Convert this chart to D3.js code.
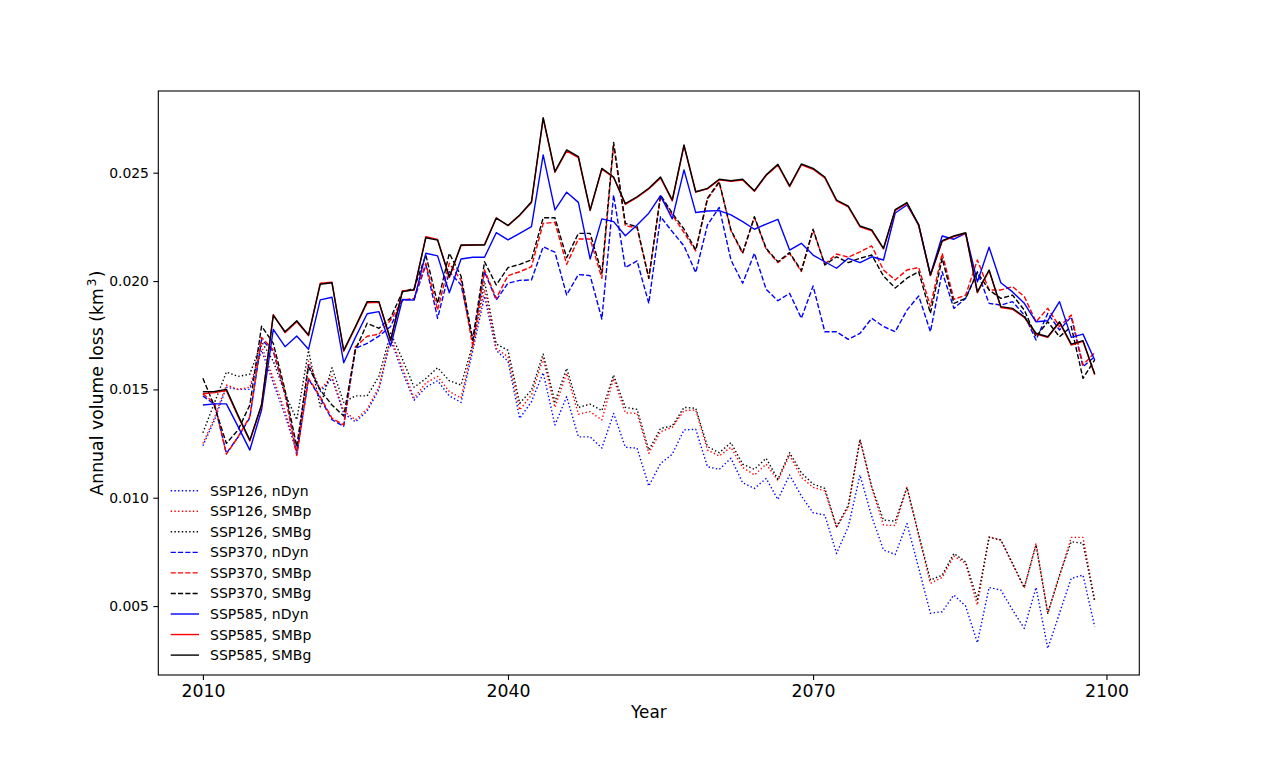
<!DOCTYPE html>
<html>
<head>
<meta charset="utf-8">
<script src="https://cdn.jsdelivr.net/npm/d3@7"></script>
<style>
  html, body { margin: 0; padding: 0; background: #ffffff; }
  svg { display: block; font-family: "DejaVu Sans", sans-serif; }
</style>
</head>
<body>
<svg id="chart" width="1266" height="759"></svg>
<script>
// ---------------- DATA ----------------
const xTickPositions = [0, 26, 52, 77];
const xTickLabels = ["2010", "2040", "2070", "2100"];
const yTickValues = [0.005, 0.010, 0.015, 0.020, 0.025];

const seriesNames = [
  "SSP126, nDyn", "SSP126, SMBp", "SSP126, SMBg",
  "SSP370, nDyn", "SSP370, SMBp", "SSP370, SMBg",
  "SSP585, nDyn", "SSP585, SMBp", "SSP585, SMBg"
];

const ssp126_nDyn = [
  0.0124, 0.0136, 0.0151, 0.0150, 0.0150, 0.0168, 0.0153, 0.0138, 0.0121, 0.0162,
  0.0149, 0.0155, 0.0139, 0.0135, 0.0140, 0.0150, 0.0173, 0.0158, 0.0145, 0.0151,
  0.0154, 0.0147, 0.0144, 0.0168, 0.0193, 0.0168, 0.0163,
  0.01366, 0.01443, 0.01577, 0.01336, 0.01466, 0.01281, 0.01281, 0.01229, 0.01389,
  0.01233, 0.01229, 0.01054, 0.01158, 0.01201, 0.01313,
  0.01316, 0.01143, 0.01131, 0.01182, 0.01069, 0.01043, 0.01089, 0.00992, 0.01105,
  0.01008, 0.00931, 0.00920, 0.00743, 0.00866, 0.01105, 0.00913, 0.00759, 0.00738,
  0.00881, 0.00675, 0.00467, 0.00474, 0.00551, 0.00500, 0.00331, 0.00586, 0.00574,
  0.00482, 0.00397, 0.00586, 0.00305, 0.00467, 0.00628, 0.00643, 0.00405
];
const ssp126_SMBp = [
  0.0125, 0.0137, 0.0152, 0.0150, 0.0151, 0.0170, 0.0155, 0.0140, 0.0122, 0.0163,
  0.0150, 0.0156, 0.0140, 0.0136, 0.0141, 0.0151, 0.0174, 0.0160, 0.0146, 0.0153,
  0.0156, 0.0149, 0.0146, 0.0170, 0.0196, 0.0169, 0.0165,
  0.01405, 0.01474, 0.01643, 0.01417, 0.01574, 0.01386, 0.01397, 0.01359, 0.01551,
  0.01392, 0.01389, 0.01205, 0.01305, 0.01325, 0.01402,
  0.01405, 0.01220, 0.01193, 0.01233, 0.01140, 0.01105, 0.01155, 0.01079, 0.01197,
  0.01094, 0.01048, 0.01032, 0.00863, 0.00955, 0.01266, 0.01045, 0.00874, 0.00872,
  0.01048, 0.00826, 0.00605, 0.00632, 0.00731, 0.00697, 0.00505, 0.00820, 0.00805,
  0.00693, 0.00584, 0.00790, 0.00467, 0.00638, 0.00817, 0.00817, 0.00528
];
const ssp126_SMBg = [
  0.0130, 0.0144, 0.0158, 0.0156, 0.0157, 0.0172, 0.0163, 0.0148, 0.0136, 0.0168,
  0.0142, 0.0160, 0.0144, 0.0147, 0.0147, 0.0156, 0.0176, 0.0164, 0.0151, 0.0155,
  0.0160, 0.0154, 0.0152, 0.0171, 0.0200, 0.0171, 0.0168,
  0.01436, 0.01497, 0.01663, 0.01443, 0.01597, 0.01417, 0.01432, 0.01402, 0.01566,
  0.01417, 0.01408, 0.01220, 0.01320, 0.01331, 0.01417,
  0.01413, 0.01236, 0.01208, 0.01254, 0.01155, 0.01131, 0.01182, 0.01085, 0.01208,
  0.01115, 0.01063, 0.01043, 0.00866, 0.00966, 0.01270, 0.01051, 0.00897, 0.00892,
  0.01048, 0.00830, 0.00620, 0.00643, 0.00743, 0.00704, 0.00531, 0.00817, 0.00805,
  0.00697, 0.00586, 0.00782, 0.00467, 0.00643, 0.00797, 0.00790, 0.00520
];
const ssp370_nDyn = [
  0.01470, 0.01430, 0.01205, 0.01280, 0.01370, 0.01730, 0.01675, 0.01478, 0.01200, 0.01548,
  0.01460, 0.01360, 0.01330, 0.01690, 0.01712, 0.01746, 0.01790, 0.01912, 0.01916, 0.02074,
  0.01828, 0.02043, 0.01982, 0.01728, 0.02043, 0.01912, 0.01990, 0.02003, 0.02005, 0.02158,
  0.02133, 0.01936, 0.02030, 0.02025, 0.01825, 0.02397, 0.02062, 0.02093, 0.01897, 0.02297,
  0.02228, 0.02162, 0.02039, 0.02259, 0.02340, 0.02097, 0.01990, 0.02128, 0.01962, 0.01909,
  0.01943, 0.01828, 0.01977, 0.01766, 0.01766, 0.01731, 0.01759, 0.01828, 0.01790, 0.01766,
  0.01866, 0.01931, 0.01766, 0.02043, 0.01874, 0.01920, 0.02043, 0.01897, 0.01889, 0.01905,
  0.01843, 0.01728, 0.01851, 0.01774, 0.01835, 0.01605, 0.01651
];
const ssp370_SMBp = [
  0.01480, 0.01436, 0.01201, 0.01281, 0.01374, 0.01740, 0.01682, 0.01482, 0.01195, 0.01551,
  0.01466, 0.01367, 0.01336, 0.01697, 0.01745, 0.01755, 0.01820, 0.01912, 0.01920, 0.02082,
  0.01866, 0.02082, 0.02004, 0.01697, 0.02051, 0.01920, 0.02025, 0.02043, 0.02066, 0.02266,
  0.02271, 0.02077, 0.02194, 0.02194, 0.02013, 0.02628, 0.02255, 0.02246, 0.02013, 0.02389,
  0.02305, 0.02224, 0.02139, 0.02378, 0.02455, 0.02232, 0.02127, 0.02293, 0.02147, 0.02085,
  0.02127, 0.02044, 0.02235, 0.02078, 0.02125, 0.02110, 0.02135, 0.02162, 0.02051, 0.02005,
  0.02051, 0.02063, 0.01882, 0.02128, 0.01916, 0.01935, 0.02097, 0.01959, 0.01959, 0.01974,
  0.01928, 0.01812, 0.01874, 0.01790, 0.01843, 0.01613, 0.01669
];
const ssp370_SMBg = [
  0.01551, 0.01420, 0.01251, 0.01313, 0.01428, 0.01792, 0.01712, 0.01497, 0.01236, 0.01605,
  0.01497, 0.01428, 0.01377, 0.01682, 0.01805, 0.01782, 0.01830, 0.01950, 0.01966, 0.02120,
  0.01897, 0.02128, 0.02023, 0.01728, 0.02089, 0.01982, 0.02062, 0.02077, 0.02097, 0.02292,
  0.02292, 0.02108, 0.02220, 0.02220, 0.02036, 0.02640, 0.02266, 0.02251, 0.02013, 0.02397,
  0.02313, 0.02240, 0.02143, 0.02382, 0.02458, 0.02236, 0.02131, 0.02297, 0.02151, 0.02089,
  0.02131, 0.02048, 0.02239, 0.02074, 0.02112, 0.02085, 0.02105, 0.02120, 0.02023, 0.01968,
  0.02013, 0.02043, 0.01851, 0.02105, 0.01897, 0.01920, 0.02039, 0.01959, 0.01920, 0.01935,
  0.01866, 0.01743, 0.01812, 0.01743, 0.01790, 0.01551, 0.01636
];
const ssp585_nDyn = [
  0.01428, 0.01433, 0.01433, 0.01328, 0.01220, 0.01405, 0.01777, 0.01697, 0.01746, 0.01685,
  0.01913, 0.01925, 0.01623, 0.01740, 0.01849, 0.01859, 0.01700, 0.01915, 0.01912, 0.02128,
  0.02116, 0.01946, 0.02102, 0.02110, 0.02110, 0.02223, 0.02190, 0.02220, 0.02251, 0.02582,
  0.02328, 0.02410, 0.02363, 0.02102, 0.02287, 0.02274, 0.02209, 0.02259, 0.02313, 0.02394,
  0.02287, 0.02513, 0.02316, 0.02323, 0.02325, 0.02305, 0.02274, 0.02239, 0.02263, 0.02285,
  0.02143, 0.02174, 0.02120, 0.02089, 0.02059, 0.02105, 0.02085, 0.02112, 0.02097, 0.02314,
  0.02351, 0.02260, 0.02028, 0.02208, 0.02193, 0.02220, 0.01996, 0.02156, 0.01992, 0.01950,
  0.01897, 0.01812, 0.01817, 0.01905, 0.01740, 0.01755, 0.01636
];
const ssp585_SMBp = [
  0.01480, 0.01485, 0.01495, 0.01375, 0.01262, 0.01425, 0.01845, 0.01762, 0.01812, 0.01748,
  0.01990, 0.01995, 0.01676, 0.01786, 0.01900, 0.01902, 0.01725, 0.01955, 0.01958, 0.02205,
  0.02192, 0.02016, 0.02164, 0.02166, 0.02168, 0.02292, 0.02255, 0.02303, 0.02362, 0.02750,
  0.02502, 0.02600, 0.02570, 0.02325, 0.02516, 0.02478, 0.02354, 0.02386, 0.02425, 0.02476,
  0.02370, 0.02624, 0.02410, 0.02425, 0.02467, 0.02460, 0.02466, 0.02414, 0.02487, 0.02535,
  0.02436, 0.02536, 0.02516, 0.02476, 0.02370, 0.02342, 0.02250, 0.02232, 0.02148, 0.02326,
  0.02358, 0.02255, 0.02025, 0.02183, 0.02205, 0.02220, 0.01946, 0.02048, 0.01878, 0.01870,
  0.01832, 0.01755, 0.01740, 0.01808, 0.01705, 0.01722, 0.01568
];
const ssp585_SMBg = [
  0.01489, 0.01490, 0.01500, 0.01380, 0.01266, 0.01430, 0.01842, 0.01766, 0.01817, 0.01751,
  0.01985, 0.01992, 0.01680, 0.01790, 0.01905, 0.01905, 0.01728, 0.01951, 0.01960, 0.02200,
  0.02189, 0.02020, 0.02166, 0.02166, 0.02166, 0.02290, 0.02257, 0.02305, 0.02366, 0.02754,
  0.02505, 0.02605, 0.02574, 0.02328, 0.02520, 0.02480, 0.02357, 0.02389, 0.02428, 0.02480,
  0.02374, 0.02628, 0.02412, 0.02428, 0.02470, 0.02463, 0.02470, 0.02417, 0.02490, 0.02539,
  0.02439, 0.02540, 0.02520, 0.02480, 0.02374, 0.02346, 0.02254, 0.02236, 0.02151, 0.02330,
  0.02362, 0.02259, 0.02028, 0.02186, 0.02208, 0.02223, 0.01950, 0.02051, 0.01882, 0.01874,
  0.01835, 0.01759, 0.01743, 0.01812, 0.01709, 0.01725, 0.01571
];

const seriesValues = [
  ssp126_nDyn, ssp126_SMBp, ssp126_SMBg,
  ssp370_nDyn, ssp370_SMBp, ssp370_SMBg,
  ssp585_nDyn, ssp585_SMBp, ssp585_SMBg
];

// ---------------- STYLE ----------------
const seriesColors = ["#0000ff", "#ff0000", "#000000", "#0000ff", "#ff0000", "#000000", "#0000ff", "#ff0000", "#000000"];
const seriesDash = ["1.4,2.3", "1.4,2.3", "1.4,2.3", "5.1,2.2", "5.1,2.2", "5.1,2.2", null, null, null];

// ---------------- LAYOUT ----------------
const W = 1266, H = 759;
const plot = { left: 158.3, right: 1139.3, top: 91, bottom: 675 };

const svg = d3.select("#chart");
svg.append("rect").attr("width", W).attr("height", H).attr("fill", "#ffffff");

const x = d3.scaleLinear().domain([-3.8, 79.8]).range([plot.left, plot.right]);
const y = d3.scaleLinear().domain([0.00182, 0.02877]).range([plot.bottom, plot.top]);

// Lines
const line = d3.line().x((d, i) => x(i)).y(d => y(d));
const gLines = svg.append("g");
seriesValues.forEach((vals, k) => {
  gLines.append("path")
    .datum(vals)
    .attr("d", line)
    .attr("fill", "none")
    .attr("stroke", seriesColors[k])
    .attr("stroke-width", 1.4)
    .attr("stroke-linejoin", "round")
    .attr("stroke-dasharray", seriesDash[k]);
});

// Frame
svg.append("rect")
  .attr("x", plot.left).attr("y", plot.top)
  .attr("width", plot.right - plot.left).attr("height", plot.bottom - plot.top)
  .attr("fill", "none").attr("stroke", "#000").attr("stroke-width", 1.1);

// X axis
const xAxis = d3.axisBottom(x)
  .tickValues(xTickPositions)
  .tickFormat((d, i) => xTickLabels[i])
  .tickSize(4.9).tickPadding(4.5);
const gx = svg.append("g").attr("transform", `translate(0,${plot.bottom})`).call(xAxis);
gx.select(".domain").remove();
gx.selectAll(".tick line").attr("stroke", "#000").attr("stroke-width", 1.1);
gx.selectAll(".tick text").attr("fill", "#000").attr("font-size", "17.3px")
  .attr("font-family", "DejaVu Sans");

// Y axis
const yAxis = d3.axisLeft(y)
  .tickValues(yTickValues)
  .tickFormat(d3.format(".3f"))
  .tickSize(4.9).tickPadding(4.5);
const gy = svg.append("g").attr("transform", `translate(${plot.left},0)`).call(yAxis);
gy.select(".domain").remove();
gy.selectAll(".tick line").attr("stroke", "#000").attr("stroke-width", 1.1);
gy.selectAll(".tick text").attr("fill", "#000").attr("font-size", "13.9px")
  .attr("font-family", "DejaVu Sans");

// Axis labels
svg.append("text")
  .attr("x", (plot.left + plot.right) / 2).attr("y", 717.5)
  .attr("text-anchor", "middle").attr("font-size", "16.8px").attr("fill", "#000")
  .text("Year");

const yl = svg.append("text")
  .attr("transform", `translate(103,${(plot.top + plot.bottom) / 2}) rotate(-90)`)
  .attr("text-anchor", "middle").attr("font-size", "17.3px").attr("fill", "#000");
yl.append("tspan").text("Annual volume loss (km");
yl.append("tspan").attr("font-size", "12.5px").attr("dx", "1.5").attr("dy", "-7").text("3");
yl.append("tspan").attr("dx", "1.5").attr("dy", "7").text(")");

// Legend
const legend = svg.append("g");
const legRow = 20.55, legY0 = 490.7;
seriesNames.forEach((name, k) => {
  const cy = legY0 + k * legRow;
  legend.append("line")
    .attr("x1", 170.7).attr("x2", 199).attr("y1", cy).attr("y2", cy)
    .attr("stroke", seriesColors[k]).attr("stroke-width", 1.4)
    .attr("stroke-dasharray", seriesDash[k]);
  legend.append("text")
    .attr("x", 210).attr("y", cy + 5)
    .attr("font-size", "14px").attr("fill", "#000")
    .text(name);
});
</script>
</body>
</html>
